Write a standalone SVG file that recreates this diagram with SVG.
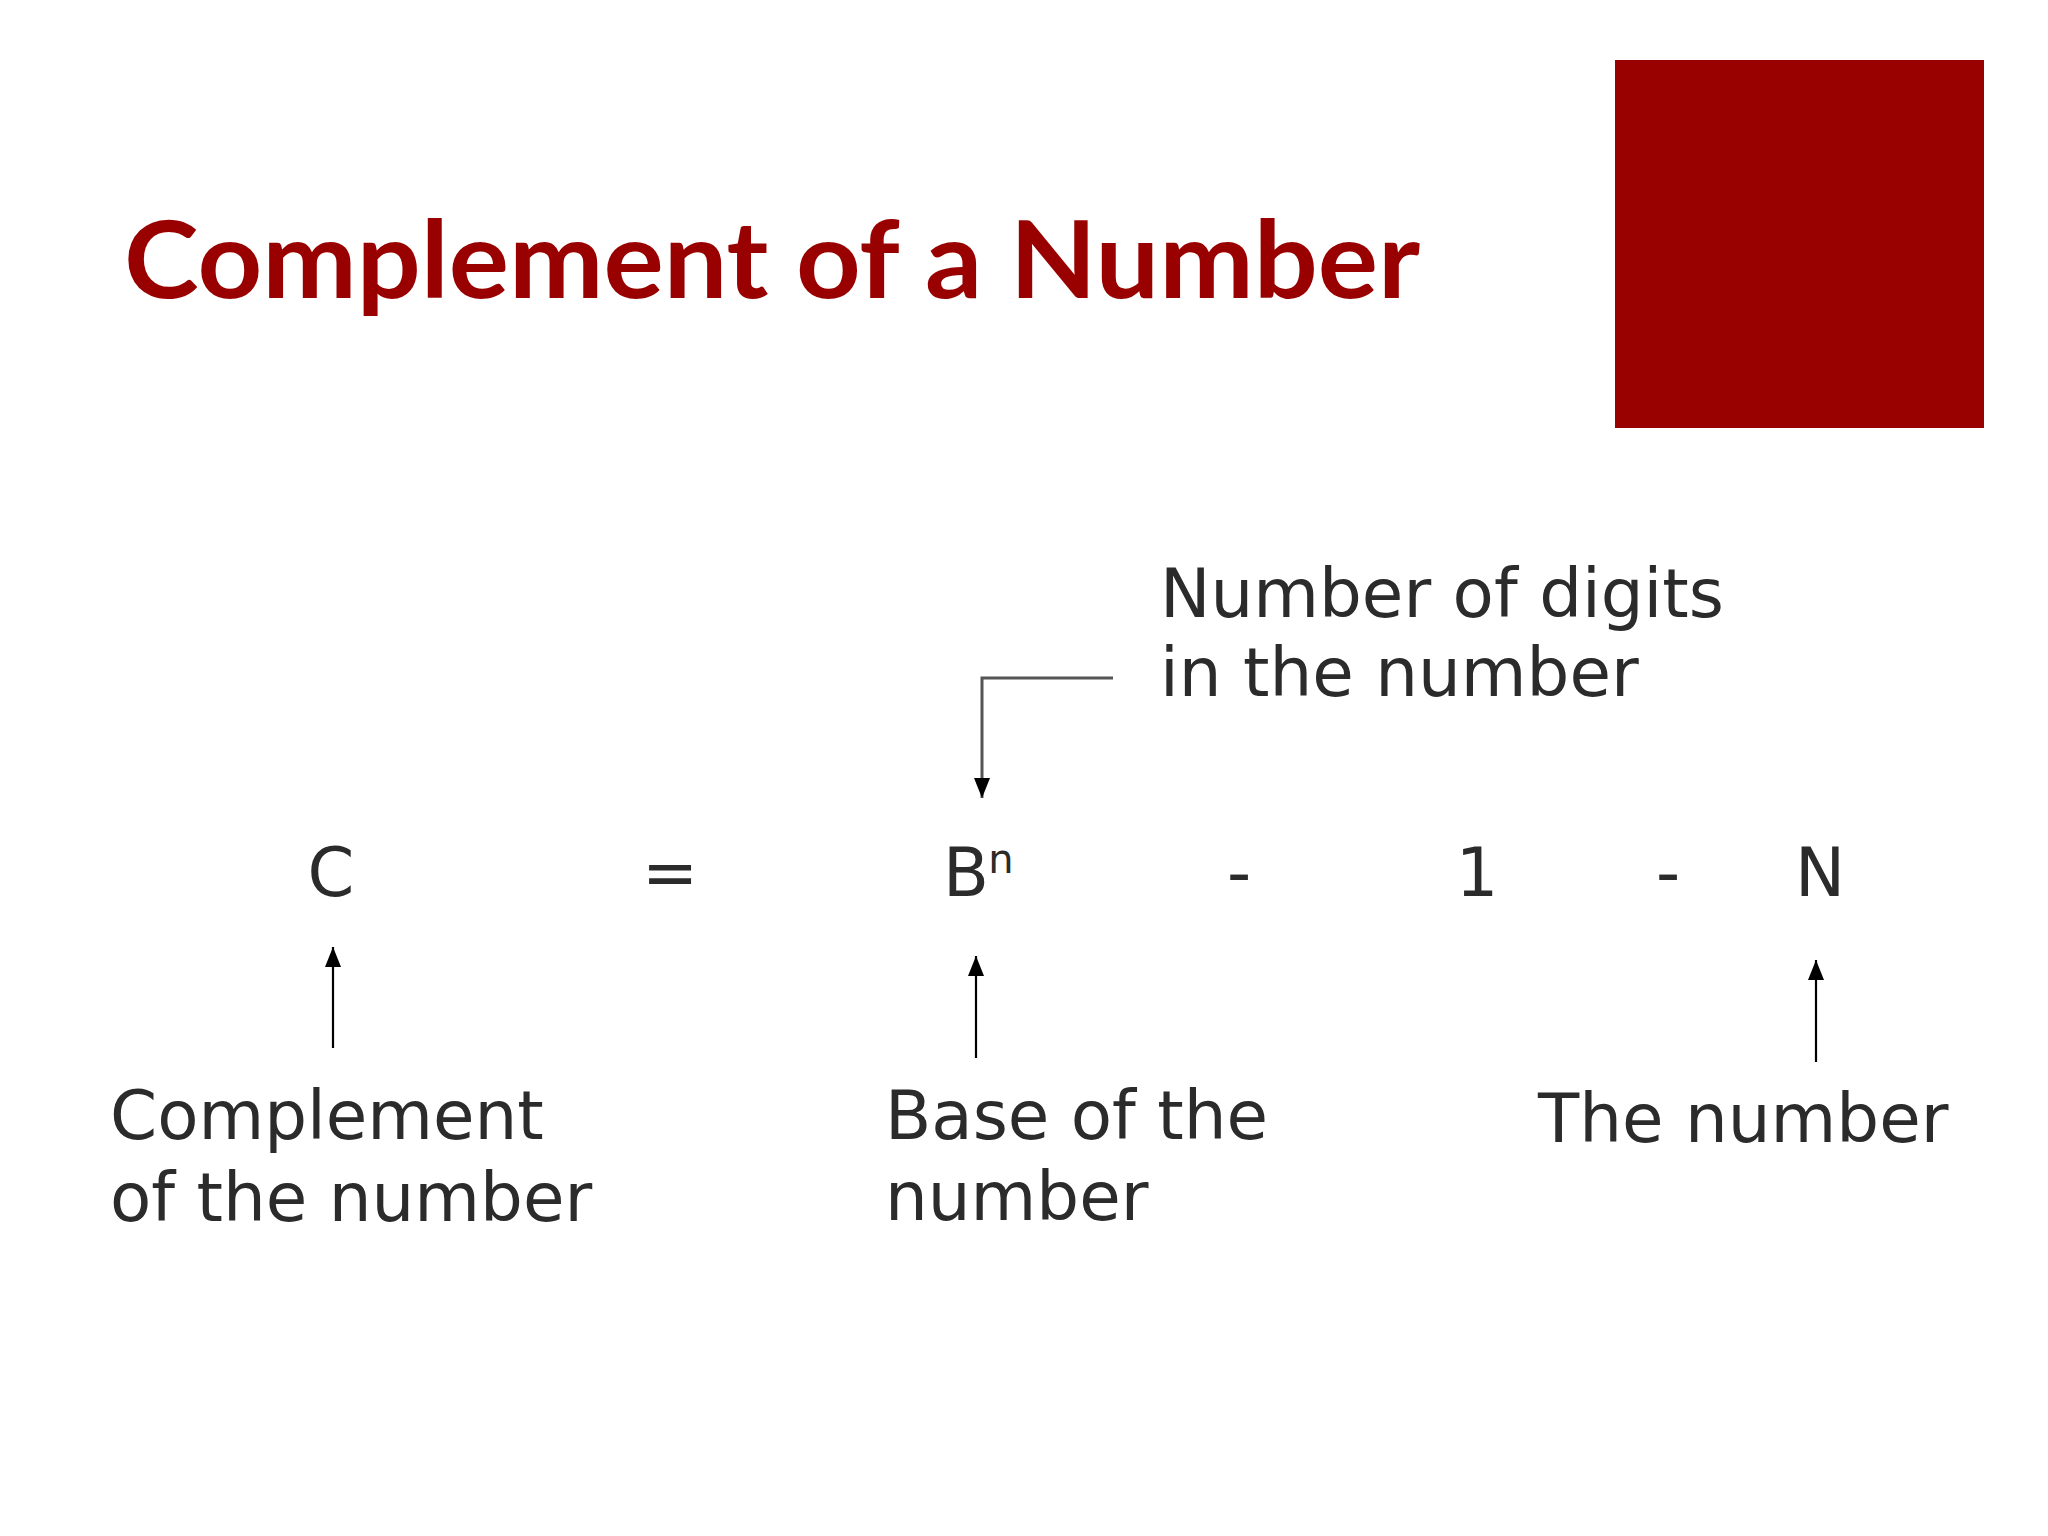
<svg xmlns="http://www.w3.org/2000/svg" width="2048" height="1536" viewBox="0 0 2048 1536">
<style>
.title{font-family:"Lato","Liberation Sans",sans-serif;font-weight:bold;font-size:107px;fill:#990000}
.lbl{font-family:"DejaVu Sans","Liberation Sans",sans-serif;font-size:67.5px;fill:#2b2b2b}
.eq{font-family:"DejaVu Sans","Liberation Sans",sans-serif;font-size:67px;fill:#2b2b2b;text-anchor:middle}
.sup{font-family:"DejaVu Sans","Liberation Sans",sans-serif;font-size:40px;fill:#2b2b2b;text-anchor:middle}
.arr{stroke:#000;stroke-width:2.2;fill:none}
.elb{stroke:#555;stroke-width:3;fill:none}
</style>
<defs>
<marker id="ah" markerUnits="userSpaceOnUse" markerWidth="20" markerHeight="18" refX="20" refY="9" orient="auto" viewBox="0 0 20 18">
<path d="M0,1 L20,9 L0,17 z" fill="#000"/>
</marker>
</defs>
<rect width="2048" height="1536" fill="#ffffff"/>
<rect id="deco" x="1615" y="60" width="369" height="368" fill="#990000"/>
<text id="title" class="title" x="124" y="298" textLength="1296" lengthAdjust="spacingAndGlyphs">Complement of a Number</text>
<g id="equation">
<text class="eq" x="331" y="896">C</text>
<text class="eq" x="670" y="896">=</text>
<text class="eq" x="966" y="896">B</text>
<text class="sup" x="1001" y="873">n</text>
<text class="eq" x="1239" y="896">-</text>
<text class="eq" x="1477" y="896">1</text>
<text class="eq" x="1668" y="896">-</text>
<text class="eq" x="1820" y="896">N</text>
</g>
<g id="label-digits">
<text class="lbl" x="1160" y="617">Number of digits</text>
<text class="lbl" x="1160" y="696">in the number</text>
</g>
<g id="label-complement">
<text class="lbl" x="110" y="1139">Complement</text>
<text class="lbl" x="110" y="1221">of the number</text>
</g>
<g id="label-base">
<text class="lbl" x="885" y="1139">Base of the</text>
<text class="lbl" x="885" y="1220">number</text>
</g>
<g id="label-number">
<text class="lbl" x="1538" y="1142">The number</text>
</g>
<g id="connectors">
<path class="elb" d="M1113,678 L982,678 L982,798" marker-end="url(#ah)"/>
<line class="arr" x1="333" y1="1048" x2="333" y2="947" marker-end="url(#ah)"/>
<line class="arr" x1="976" y1="1058" x2="976" y2="956" marker-end="url(#ah)"/>
<line class="arr" x1="1816" y1="1062" x2="1816" y2="960" marker-end="url(#ah)"/>
</g>
</svg>
